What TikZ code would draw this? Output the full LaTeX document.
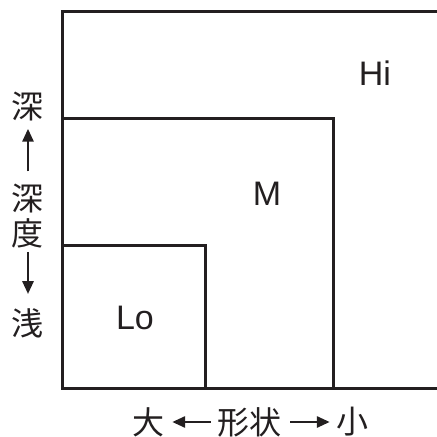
\documentclass[tikz,border=0pt]{standalone}
\usepackage{fontspec}
\setmainfont{Liberation Sans}
\newfontfamily\cjk{Noto Sans CJK JP}
\usetikzlibrary{arrows.meta}
\definecolor{ink}{HTML}{231F20}

\begin{document}
\begin{tikzpicture}[x=1pt,y=-1pt,
    zone/.style={draw=ink, line width=3pt, line join=miter},
    lvl/.style={text=ink, font=\fontsize{34}{34}\selectfont, inner sep=0pt},
    kanji/.style={text=ink, font=\cjk\fontsize{32}{32}\selectfont, inner sep=0pt},
    arr/.style={draw=ink, line width=2.8pt, -{Triangle[length=13pt,width=11pt]}}]
    \useasboundingbox (0,0) rectangle (437,437);

    % boxes
    \draw[zone] (437,11) -| (62,388) -- (437,388);
    \draw[zone] (62,118) -| (333,388);
    \draw[zone] (62,245) -| (205,388);

    \node[lvl] (hi) at (375,73) {Hi};
    \node[lvl] (m) at (267,194) {M};
    \node[lvl] (lo) at (135,318) {Lo};

    % depth axis
    \node[kanji] (deep) at (28,107) {深};
    \node[kanji] (depth1) at (28,199) {深};
    \node[kanji] (depth2) at (28,233) {度};
    \node[kanji] (shallow) at (28,323) {浅};
    \draw[arr, shorten <=13pt, shorten >=7pt] (depth1.north) -- (deep.south);
    \draw[arr, shorten <=4pt, shorten >=14pt] (depth2.south) -- (shallow.north);

    % shape axis
    \node[kanji] (large) at (148,422) {大};
    \node[kanji] (shape) at (249,422) {形状};
    \node[kanji] (small) at (352,422) {小};
    \draw[arr, shorten <=6pt, shorten >=8pt] (shape.west) -- (large.east);
    \draw[arr, shorten <=9pt, shorten >=6pt] (shape.east) -- (small.west);

\end{tikzpicture}
\end{document}
